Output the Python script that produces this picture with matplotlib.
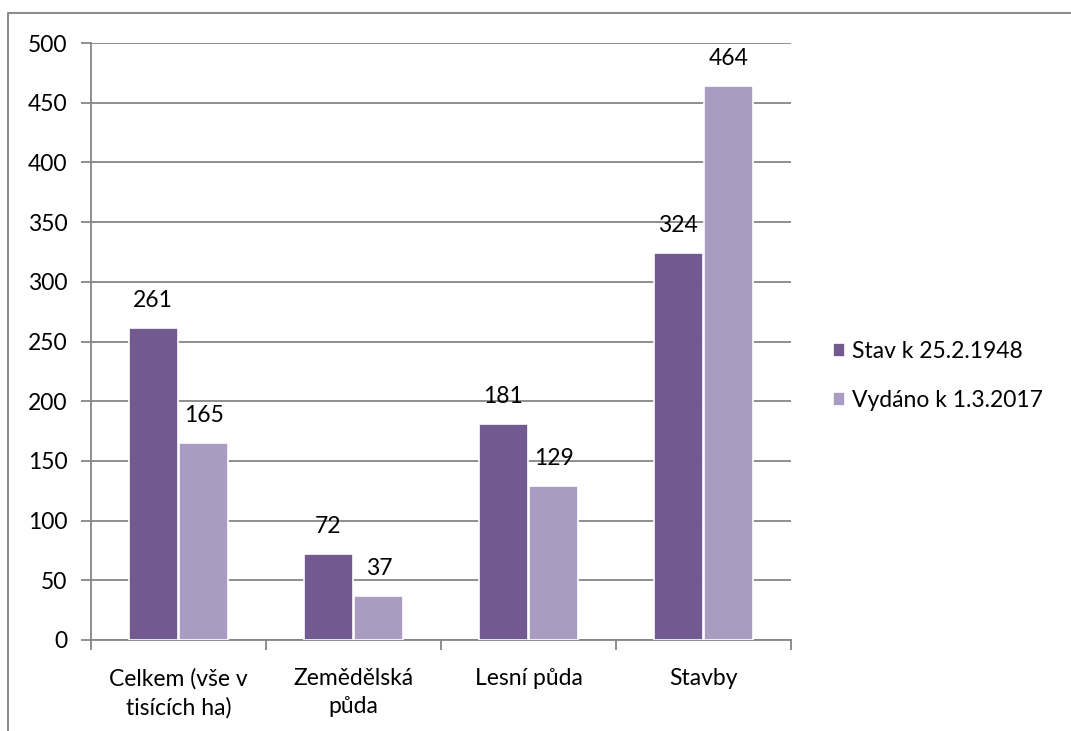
import matplotlib.pyplot as plt
import numpy as np
from matplotlib.lines import Line2D

categories = ["Celkem (vše v\ntisících ha)", "Zemědělská\npůda", "Lesní půda", "Stavby"]
series_names = ["Stav k 25.2.1948", "Vydáno k 1.3.2017"]
stav_1948 = [261, 72, 181, 324]
vydano_2017 = [165, 37, 129, 464]
y_ticks = [0, 50, 100, 150, 200, 250, 300, 350, 400, 450, 500]

colors = ["#725990", "#a99bc2"]
grid_color = "#868686"
fs = 16.5

plt.rcParams["font.family"] = ["Lato", "DejaVu Sans"]

W, H = 1071, 731
fig = plt.figure(figsize=(W / 100, H / 100), dpi=100)
ax = fig.add_axes([91 / W, 1 - 640 / H, 700 / W, 597 / H])

x = np.arange(len(categories))
width = 0.28
for i, (vals, name) in enumerate(zip([stav_1948, vydano_2017], series_names)):
    offs = (i - 0.5) * (width + 0.01)
    bars = ax.bar(x + offs, vals, width, color=colors[i], edgecolor="white",
                  linewidth=1.2, label=name, zorder=3)
    for b, v in zip(bars, vals):
        ax.annotate(str(v), (b.get_x() + b.get_width() / 2, v),
                    xytext=(0, 20), textcoords="offset points",
                    ha="center", va="center", fontsize=fs, color="#000000")

ax.set_xlim(-0.5, len(categories) - 0.5)
ax.set_ylim(0, 500)
ax.set_yticks(y_ticks)
ax.yaxis.grid(True, color=grid_color, linewidth=1.3, zorder=0)
ax.set_axisbelow(True)

ax.set_xticks(np.arange(-0.5, len(categories), 1.0))
ax.set_xticklabels([])
ax.set_xticks(x, minor=True)
ax.set_xticklabels(categories, minor=True, fontsize=fs, linespacing=1.45)
ax.tick_params(axis="x", which="minor", length=0, pad=20)
ax.tick_params(axis="x", which="major", length=7, width=1.3, color=grid_color)
ax.tick_params(axis="y", length=7, width=1.3, color=grid_color, labelsize=fs, pad=10)

for s in ["top", "right"]:
    ax.spines[s].set_visible(False)
for s in ["left", "bottom"]:
    ax.spines[s].set_color(grid_color)
    ax.spines[s].set_linewidth(1.3)

leg = fig.legend(loc="center left", bbox_to_anchor=(812 / W, 1 - 376 / H),
                 frameon=False, fontsize=fs, handlelength=0.55, handleheight=0.55,
                 handletextpad=0.3, labelspacing=1.2)

fig.add_artist(Line2D([8 / W, 8 / W, 1.0], [0, 1 - 13 / H, 1 - 13 / H],
                      transform=fig.transFigure, color="#8c8c8c", linewidth=1.5))

fig.savefig("out.png", dpi=100)
